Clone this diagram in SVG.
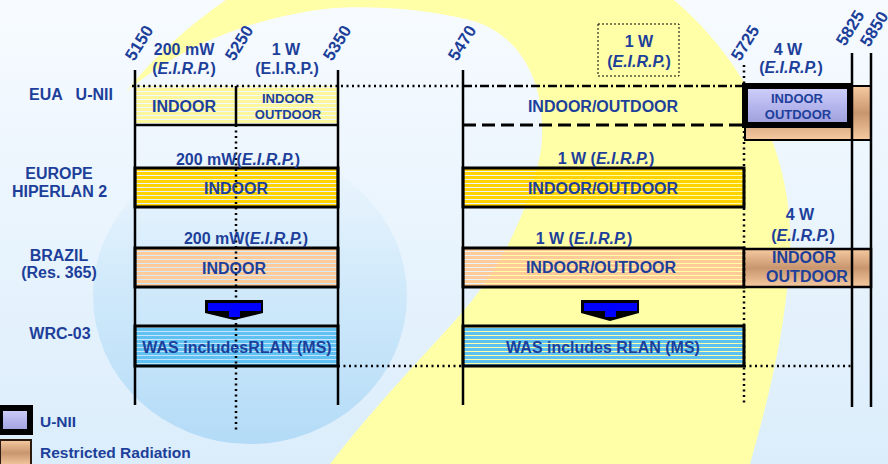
<svg xmlns="http://www.w3.org/2000/svg" width="888" height="464" viewBox="0 0 888 464">
<defs>
<style>
.t{font-family:"Liberation Sans",Arial,sans-serif;font-weight:bold;fill:#1d3f9a;font-size:16px;text-anchor:middle}
.s{font-size:13px}
.i{font-style:italic}
.st{text-anchor:start}
.f{font-size:17px}
.v{stroke:#000;stroke-width:2.5;fill:none}
.dt{stroke:#000;stroke-width:2.5;stroke-dasharray:2 3.5;fill:none}
.bar{stroke:#000;stroke-width:3}
</style>
<linearGradient id="bg" x1="0" y1="0" x2="0" y2="1"><stop offset="0" stop-color="#f7fbff"/><stop offset="1" stop-color="#dbedfb"/></linearGradient>
<linearGradient id="circ" x1="0" y1="0" x2="0" y2="1"><stop offset="0" stop-color="#d6ecfb" stop-opacity="0"/><stop offset="0.45" stop-color="#c8e6fa" stop-opacity="0.7"/><stop offset="1" stop-color="#b3dbf7"/></linearGradient>
<pattern id="sLY" width="10" height="4" patternUnits="userSpaceOnUse"><rect width="10" height="3" fill="#fcf69c"/></pattern>
<pattern id="sGold" width="10" height="4" patternUnits="userSpaceOnUse"><rect width="10" height="3" fill="#ffd200"/></pattern>
<pattern id="sPeach" width="10" height="4" patternUnits="userSpaceOnUse"><rect width="10" height="3" fill="#fdca98"/></pattern>
<pattern id="sBlue" width="10" height="4" patternUnits="userSpaceOnUse"><rect width="10" height="3" fill="#5ec1f1"/></pattern>
<linearGradient id="lav" x1="0" y1="0" x2="0" y2="1"><stop offset="0" stop-color="#d2d2fb"/><stop offset="0.5" stop-color="#b6b6ee"/><stop offset="1" stop-color="#9d9ddb"/></linearGradient>
<linearGradient id="rr" x1="0" y1="0" x2="0" y2="1"><stop offset="0" stop-color="#f6caa0"/><stop offset="0.5" stop-color="#c8966e"/><stop offset="1" stop-color="#f6caa0"/></linearGradient>
</defs>

<g id="background">
<rect width="888" height="464" fill="url(#bg)"/>
<ellipse cx="250" cy="296" rx="157" ry="148" fill="url(#circ)"/>
<path d="M126,92 C155,55 190,25 226,0 L674,0 C745,60 800,160 789,270 C782,350 765,410 750,464 L330,464 C380,400 420,360 460,315 C500,270 530,210 541,150 C548,90 525,35 470,20 C420,8 370,6 335,8 C270,14 190,38 126,92 Z" fill="#ffffa8"/>
</g>

<g id="bar-eua-left">
<rect x="135" y="86" width="203" height="39" fill="url(#sLY)"/>
</g>
<g id="bar-eua-rr">
<rect x="745" y="86" width="126" height="54" fill="url(#rr)" stroke="#000" stroke-width="2"/>
</g>
<g id="bar-europe-left"><rect class="bar" x="135" y="168" width="203" height="39" fill="url(#sGold)"/></g>
<g id="bar-europe-right"><rect class="bar" x="463" y="168" width="281" height="39" fill="url(#sGold)"/></g>
<g id="bar-brazil-left"><rect class="bar" x="135" y="248" width="203" height="39" fill="url(#sPeach)"/></g>
<g id="bar-brazil-right"><rect class="bar" x="463" y="248" width="281" height="39" fill="url(#sPeach)"/></g>
<g id="bar-brazil-rr"><rect x="744" y="249" width="127" height="38" fill="url(#rr)" stroke="#000" stroke-width="2.5"/></g>
<g id="bar-wrc-left"><rect class="bar" x="135" y="326" width="203" height="40" fill="url(#sBlue)"/></g>
<g id="bar-wrc-right"><rect class="bar" x="463" y="326" width="281" height="40" fill="url(#sBlue)"/></g>

<g id="connectors">
<line class="v" x1="135" y1="70" x2="135" y2="405"/>
<line class="v" x1="338" y1="70" x2="338" y2="405"/>
<line class="v" x1="463" y1="70" x2="463" y2="405"/>
<line class="v" x1="852" y1="53" x2="852" y2="407"/>
<line class="v" x1="871" y1="53" x2="871" y2="407"/>
<line class="dt" x1="236" y1="125" x2="236" y2="432"/>
<line class="dt" x1="744" y1="65" x2="744" y2="403"/>
<line class="dt" x1="132" y1="86" x2="463" y2="86" stroke-width="3"/>
<line x1="463" y1="86" x2="744" y2="86" stroke="#000" stroke-width="2.5" stroke-dasharray="9 3 2 3"/>
<line x1="463" y1="125" x2="744" y2="125" stroke="#000" stroke-width="3" stroke-dasharray="13 6"/>
<line class="v" x1="135" y1="125" x2="338" y2="125" stroke-width="3"/>
<line class="v" x1="236" y1="86" x2="236" y2="125" stroke-width="3"/>
<line class="dt" x1="338" y1="366" x2="463" y2="366"/>
<line class="dt" x1="744" y1="366" x2="852" y2="366"/>
</g>

<g id="box-unii">
<rect x="745" y="86" width="105" height="39" fill="url(#lav)" stroke="#000" stroke-width="6"/>
</g>

<g id="arrow-left">
<polygon points="205,300 263,300 263,313 234,320 205,313" fill="#000"/>
<polygon points="208,303 261,303 261,311 240,311 240,317 229,317 229,311 208,311" fill="#0000ff"/>
</g>
<g id="arrow-right">
<polygon points="581,300 639,300 639,313 610,321 581,313" fill="#000"/>
<polygon points="584,303 637,303 637,311 616,311 616,317 605,317 605,311 584,311" fill="#0000ff"/>
</g>

<g id="freq-labels">
<text class="t st f" x="134" y="62" transform="rotate(-58 134 62)">5150</text>
<text class="t st f" x="234" y="62" transform="rotate(-58 234 62)">5250</text>
<text class="t st f" x="332" y="62" transform="rotate(-58 332 62)">5350</text>
<text class="t st f" x="457" y="62" transform="rotate(-58 457 62)">5470</text>
<text class="t st f" x="740" y="62" transform="rotate(-58 740 62)">5725</text>
<text class="t st f" x="845" y="47" transform="rotate(-58 845 47)">5825</text>
<text class="t st f" x="869" y="48" transform="rotate(-58 869 48)">5850</text>
</g>

<g id="power-top">
<text class="t" x="184" y="55">200 mW</text>
<text class="t" x="184" y="74">(<tspan class="i">E.I.R.P.</tspan>)</text>
<text class="t" x="286" y="55">1 W</text>
<text class="t" x="287" y="74">(E.I.R.P.)</text>
<rect x="598" y="24" width="81" height="52" fill="none" stroke="#000" stroke-width="1" stroke-dasharray="2 2"/>
<text class="t" x="639" y="47">1 W</text>
<text class="t" x="639" y="67">(<tspan class="i">E.I.R.P.</tspan>)</text>
<text class="t" x="788" y="55">4 W</text>
<text class="t" x="791" y="73">(<tspan class="i">E.I.R.P.</tspan>)</text>
</g>

<g id="row-labels">
<text class="t" x="71" y="100" xml:space="preserve">EUA   U-NII</text>
<text class="t" x="59" y="179">EUROPE</text>
<text class="t" x="59.5" y="197">HIPERLAN 2</text>
<text class="t" x="59" y="261">BRAZIL</text>
<text class="t" x="59" y="278">(Res. 365)</text>
<text class="t" x="60" y="339">WRC-03</text>
</g>

<g id="bar-texts">
<text class="t" x="184" y="112">INDOOR</text>
<text class="t s" x="288" y="103">INDOOR</text>
<text class="t s" x="288" y="119">OUTDOOR</text>
<text class="t" x="603" y="112">INDOOR/OUTDOOR</text>
<text class="t s" x="797" y="103">INDOOR</text>
<text class="t s" x="798" y="119">OUTDOOR</text>
<text class="t" x="238" y="165">200 mW(<tspan class="i">E.I.R.P.</tspan>)</text>
<text class="t" x="606" y="164">1 W (<tspan class="i">E.I.R.P.</tspan>)</text>
<text class="t" x="236" y="194">INDOOR</text>
<text class="t" x="603" y="194">INDOOR/OUTDOOR</text>
<text class="t" x="246" y="244">200 mW(<tspan class="i">E.I.R.P.</tspan>)</text>
<text class="t" x="584" y="244">1 W (<tspan class="i">E.I.R.P.</tspan>)</text>
<text class="t" x="800" y="220">4 W</text>
<text class="t" x="803" y="241">(<tspan class="i">E.I.R.P.</tspan>)</text>
<text class="t" x="234" y="274">INDOOR</text>
<text class="t" x="601" y="273">INDOOR/OUTDOOR</text>
<text class="t" x="804" y="263">INDOOR</text>
<text class="t" x="807" y="282">OUTDOOR</text>
<text class="t" x="237" y="353">WAS includesRLAN (MS)</text>
<text class="t" x="603" y="353">WAS includes RLAN (MS)</text>
</g>

<g id="legend">
<rect x="0" y="408" width="30" height="24" fill="url(#lav)" stroke="#000" stroke-width="6"/>
<text class="t st" x="40" y="427" style="font-size:15.5px">U-NII</text>
<rect x="0" y="440" width="31" height="26" fill="url(#rr)" stroke="#2a1a10" stroke-width="2"/>
<text class="t st" x="40" y="458" style="font-size:15.5px">Restricted Radiation</text>
</g>
</svg>
